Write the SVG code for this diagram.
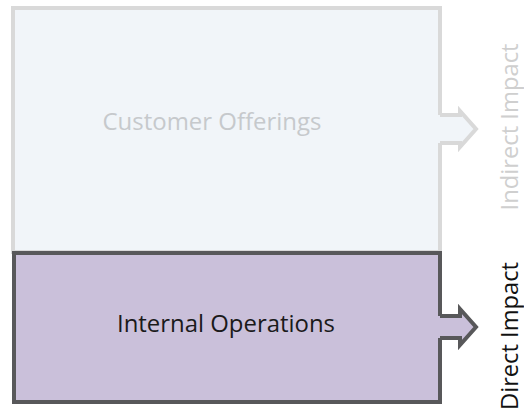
<svg xmlns="http://www.w3.org/2000/svg" width="524" height="412" viewBox="0 0 524 412">
<style>
.light{fill:#f1f5f9;stroke:#d9d9d9;stroke-width:4}
.dark{fill:#cac0da;stroke:#58585a;stroke-width:4}
.afl{stroke:none}
.aln{fill:none;stroke-width:4;stroke-linejoin:miter}
.t{font-family:"Open Sans","Noto Sans",sans-serif;font-size:23px}
</style>
<rect width="524" height="412" fill="#ffffff"/>
<g id="customer-offerings">
<rect class="light" x="13" y="8" width="427" height="244"/>
<text class="t" x="212" y="130" text-anchor="middle" fill="#c6c9cc" textLength="219" lengthAdjust="spacingAndGlyphs">Customer Offerings</text>
</g>
<g id="internal-operations">
<rect class="dark" x="14" y="253" width="426" height="149"/>
<text class="t" x="226" y="332" text-anchor="middle" fill="#1a1a1a" textLength="218" lengthAdjust="spacingAndGlyphs">Internal Operations</text>
</g>
<g id="indirect-impact">
<text class="t" transform="translate(518,127) rotate(-90)" text-anchor="middle" fill="#cfcfcf" textLength="167" lengthAdjust="spacingAndGlyphs">Indirect Impact</text>
</g>
<g id="direct-impact">
<text class="t" transform="translate(518,336) rotate(-90)" text-anchor="middle" fill="#111111" textLength="148" lengthAdjust="spacingAndGlyphs">Direct Impact</text>
</g>
<g id="connectors">
<polygon class="afl" fill="#f1f5f9" points="437,115 460,115 460,111 476,129 460,147 460,143 437,143"/>
<polyline class="aln" stroke="#d9d9d9" points="440,115 460,115 460,111 476,129 460,147 460,143 440,143"/>
<polygon class="afl" fill="#cac0da" points="437,316 460,316 460,309 476,327 460,345 460,338 437,338"/>
<polyline class="aln" stroke="#58585a" points="440,316 460,316 460,309 476,327 460,345 460,338 440,338"/>
</g>
</svg>
